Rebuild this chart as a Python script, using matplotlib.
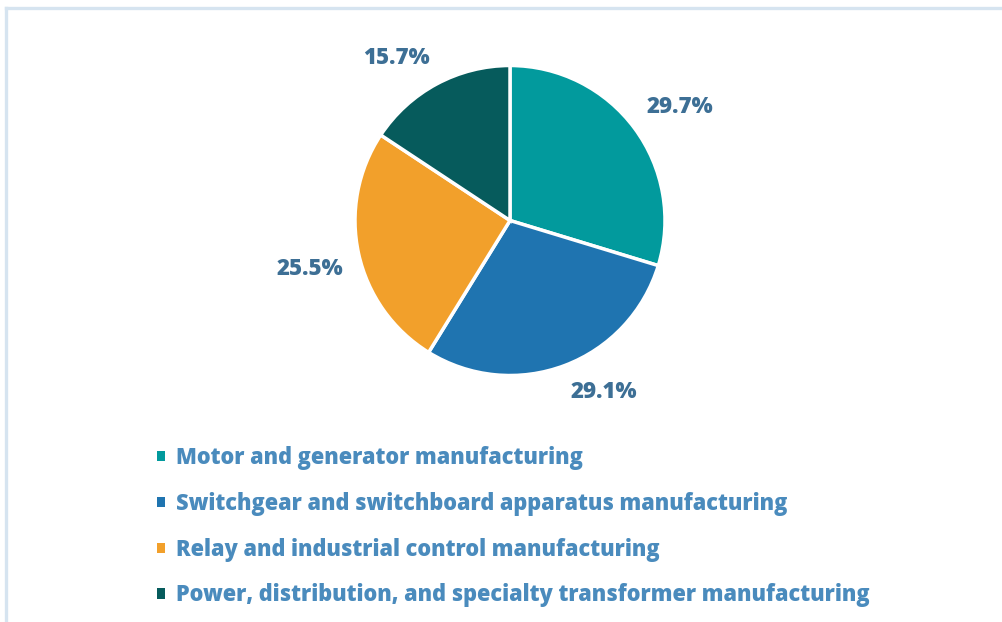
import matplotlib
matplotlib.use("Agg")
import numpy as np
import matplotlib.pyplot as plt
from matplotlib.lines import Line2D

categories = [
    "Motor and generator manufacturing",
    "Switchgear and switchboard apparatus manufacturing",
    "Relay and industrial control manufacturing",
    "Power, distribution, and specialty transformer manufacturing",
]
shares = [29.7, 29.1, 25.5, 15.7]
colors = ["#029A9D", "#1F74B0", "#F2A02B", "#065B5C"]

W, H = 1002, 622
DPI = 100
fig = plt.figure(figsize=(W / DPI, H / DPI), dpi=DPI)
fig.patch.set_facecolor("white")

plt.rcParams["font.family"] = ["Open Sans", "DejaVu Sans"]

# Light frame along the top and left edges
border = "#D6E4F0"
fig.add_artist(Line2D([6 / W, 6 / W], [0, 1 - 8 / H], color=border, lw=2.4,
                      transform=fig.transFigure))
fig.add_artist(Line2D([6 / W, 1], [1 - 8 / H, 1 - 8 / H], color=border, lw=2.4,
                      transform=fig.transFigure))

cx, cy, r = 510, 220.5, 155
ax = fig.add_axes([(cx - r) / W, 1 - (cy + r) / H, 2 * r / W, 2 * r / H])
wedges, texts, autotexts = ax.pie(
    shares, colors=colors, startangle=90, counterclock=False,
    autopct=lambda p: f"{p:.1f}%", pctdistance=1.1,
    wedgeprops=dict(edgecolor="white", linewidth=2.5),
)
# Outside-end labels: anchor the corner nearest the pie at the label point
for w, t in zip(wedges, autotexts):
    mid = np.deg2rad((w.theta1 + w.theta2) / 2)
    c, s = np.cos(mid), np.sin(mid)
    t.set_ha("left" if c > 0 else "right")
    t.set_va("bottom" if s > 0 else "top")
    t.set_color("#3D6F95")
    t.set_fontsize(16)
    t.set_fontweight("heavy")
ax.set_aspect("equal")
ax.set_xlim(-1.0, 1.0)
ax.set_ylim(-1.0, 1.0)

leg = fig.legend(
    wedges, categories, loc="upper left",
    bbox_to_anchor=(157 / W, 1 - 446 / H),
    frameon=False, handlelength=0.37, handleheight=0.37, handletextpad=0.5,
    labelspacing=1.0, borderpad=0, borderaxespad=0,
    prop=dict(family=["Open Sans", "DejaVu Sans"], weight="heavy", size=15.7),
    labelcolor="#4A8BBD",
)
for h in leg.legend_handles:
    h.set_edgecolor("none")

fig.savefig("out.png", dpi=DPI, facecolor="white")
